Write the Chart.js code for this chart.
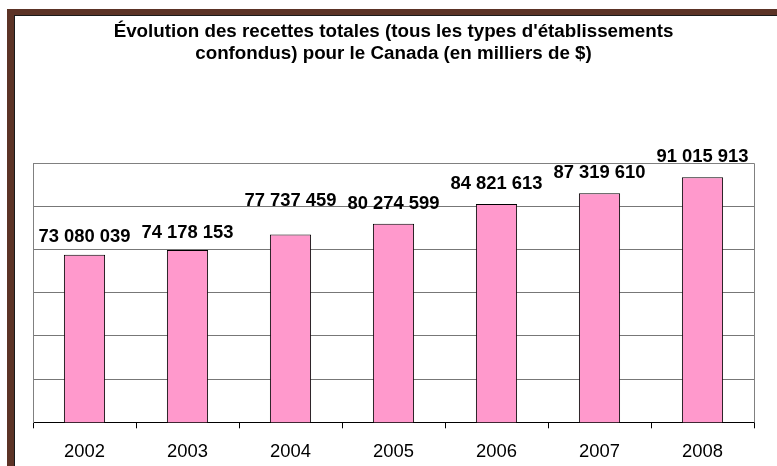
<!DOCTYPE html>
<html>
<head>
<meta charset="utf-8">
<script src="https://cdn.jsdelivr.net/npm/chart.js@4.4.1/dist/chart.umd.min.js"></script>
<style>
  html, body { margin: 0; padding: 0; background: #ffffff; }
  #wrap { position: relative; width: 777px; height: 466px; }
</style>
</head>
<body>
<div id="wrap"><canvas id="c" width="777" height="466"></canvas></div>
<script>
// ---- Data ----
const years = ['2002', '2003', '2004', '2005', '2006', '2007', '2008'];
const recettes = [73080039, 74178153, 77737459, 80274599, 84821613, 87319610, 91015913];
const titleLines = ["Évolution des recettes totales (tous les types d'établissements", "confondus) pour le Canada (en milliers de $)"];

// ---- Axis range ----
const yMin = 34300000;
const yStep = 10000000;
const yCount = 6;
const yMax = yMin + yStep * yCount;

// label gaps above bars (style)
const labelGap = [13, 12, 29, 15, 15, 15, 15];

function fmt(v) {
  return String(v).replace(/\B(?=(\d{3})+(?!\d))/g, ' ');
}

const FONT = "'Liberation Sans', Arial, sans-serif";

const framePlugin = {
  id: 'frame',
  beforeDraw(chart) {
    const ctx = chart.ctx;
    ctx.save();
    ctx.fillStyle = '#ffffff';
    ctx.fillRect(0, 0, chart.width, chart.height);
    ctx.fillStyle = '#5C3326';
    ctx.fillRect(7, 9, 7, chart.height - 9);
    ctx.fillRect(7, 9, chart.width - 7, 6);
    ctx.fillStyle = '#1a1a1a';
    ctx.fillRect(14, 15, 1, chart.height - 15);
    ctx.fillRect(14, 15, chart.width - 14, 1);
    ctx.restore();
  },
  afterDraw(chart) {
    const a = chart.chartArea;
    const ctx = chart.ctx;
    ctx.save();
    ctx.strokeStyle = '#808080';
    ctx.lineWidth = 1;
    ctx.beginPath();
    ctx.moveTo(Math.round(a.left) + 0.5, Math.round(a.bottom) + 0.5);
    ctx.lineTo(Math.round(a.left) + 0.5, Math.round(a.top) + 0.5);
    ctx.lineTo(Math.round(a.right) + 0.5, Math.round(a.top) + 0.5);
    ctx.lineTo(Math.round(a.right) + 0.5, Math.round(a.bottom) + 0.5);
    ctx.stroke();
    ctx.restore();
  }
};

const labelPlugin = {
  id: 'barLabels',
  afterDatasetsDraw(chart) {
    const ctx = chart.ctx;
    const meta = chart.getDatasetMeta(0);
    ctx.save();
    ctx.font = 'bold 18.4px ' + FONT;
    ctx.fillStyle = '#000000';
    ctx.textAlign = 'center';
    ctx.textBaseline = 'alphabetic';
    meta.data.forEach((bar, i) => {
      ctx.fillText(fmt(recettes[i]), bar.x, bar.y - labelGap[i]);
    });
    ctx.restore();
  }
};

new Chart(document.getElementById('c'), {
  type: 'bar',
  data: {
    labels: years,
    datasets: [{
      data: recettes,
      backgroundColor: '#FF99CC',
      borderColor: '#000000',
      borderWidth: 1,
      borderSkipped: false,
      barPercentage: 0.4,
      categoryPercentage: 1.0
    }]
  },
  options: {
    responsive: false,
    animation: false,
    devicePixelRatio: 1,
    layout: { padding: { left: 33, right: 23, top: 9.6, bottom: 0 } },
    plugins: {
      legend: { display: false },
      tooltip: { enabled: false },
      title: {
        display: true,
        text: titleLines,
        color: '#000000',
        font: { family: FONT, size: 18.8, weight: 'bold', lineHeight: 1.2 },
        padding: { top: 10.5, bottom: 97.8 }
      }
    },
    scales: {
      x: {
        offset: true,
        afterFit(axis) { axis.height = 43.7; },
        grid: {
          display: true,
          offset: true,
          drawOnChartArea: false,
          drawTicks: true,
          tickLength: 6,
          color: '#000000'
        },
        border: { display: true, color: '#000000', width: 1 },
        ticks: {
          color: '#000000',
          padding: 12.5,
          font: { family: FONT, size: 18.4 },
          maxRotation: 0
        }
      },
      y: {
        min: yMin,
        max: yMax,
        afterBuildTicks(axis) {
          const t = [];
          for (let k = 0; k <= yCount; k++) t.push({ value: yMin + k * yStep });
          axis.ticks = t;
        },
        grid: {
          display: true,
          drawTicks: false,
          tickLength: 0,
          color: '#777777',
          lineWidth: 1
        },
        border: { display: true, color: '#808080', width: 1 },
        ticks: { display: false }
      }
    }
  },
  plugins: [framePlugin, labelPlugin]
});
</script>
</body>
</html>
